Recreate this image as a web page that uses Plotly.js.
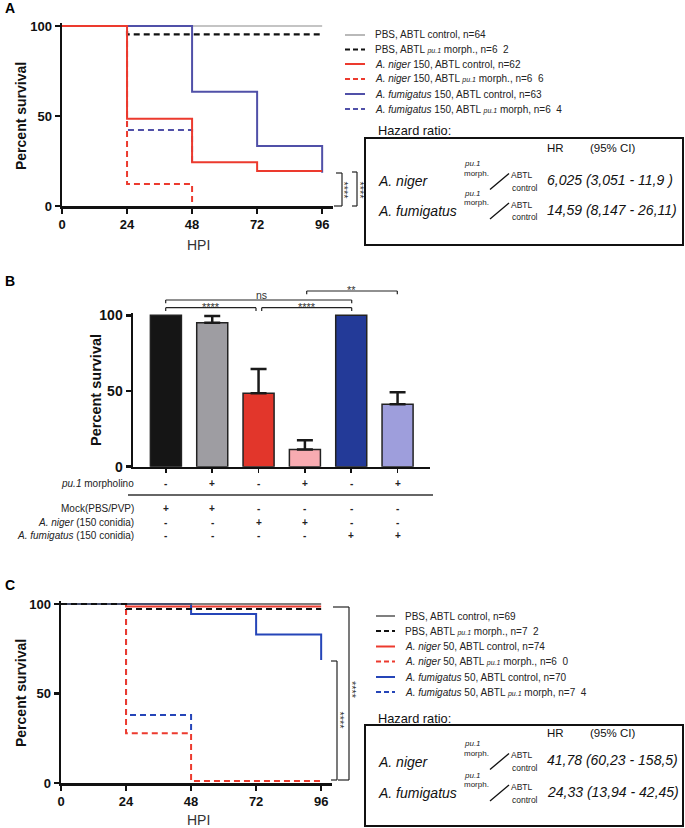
<!DOCTYPE html>
<html><head><meta charset="utf-8">
<script src="https://cdn.plot.ly/plotly-3.0.1.min.js"></script>
<style>html,body{margin:0;padding:0;background:#fff;}#chart{width:685px;height:828px;}</style>
</head><body><div id="chart"></div>
<script>
// ================= DATA =================
const hpiTicks = [0, 24, 48, 72, 96];
const survTicks = [0, 50, 100];

// Panel A (150 conidia) - Kaplan-Meier steps: time (HPI) and percent survival
const aPbsCtrlT  = [0, 96];              const aPbsCtrlS  = [100, 100];
const aPbsMorphT = [0, 24, 96];          const aPbsMorphS = [100, 95.4, 95.4];
const aNigCtrlT  = [0, 24, 48, 72, 96];  const aNigCtrlS  = [100, 48.5, 24.3, 19.4, 19.4];
const aNigMorphT = [0, 24, 48];          const aNigMorphS = [100, 12.2, 0];
const aFumCtrlT  = [0, 48, 72, 96, 96];  const aFumCtrlS  = [100, 63.5, 33.3, 33.3, 18.5];
const aFumMorphT = [0, 24, 48];          const aFumMorphS = [100, 42.2, 22.5];

// Panel C (50 conidia)
const cPbsCtrlT  = [0, 96];              const cPbsCtrlS  = [100, 100];
const cPbsMorphT = [0, 24, 96];          const cPbsMorphS = [100, 97.2, 97.2];
const cNigCtrlT  = [0, 24, 96];          const cNigCtrlS  = [100, 98.6, 98.6];
const cNigMorphT = [0, 24, 48, 96];      const cNigMorphS = [100, 27.8, 1.1, 1.1];
const cFumCtrlT  = [0, 48, 72, 96, 96];  const cFumCtrlS  = [100, 94.4, 83.0, 83.0, 68.7];
const cFumMorphT = [0, 24, 48];          const cFumMorphS = [100, 38.0, 28.0];

const legendA = [
  'PBS, ABTL control, n=64',
  'PBS, ABTL <i style="font-size:7px">pu.1</i> morph., n=6\u00a0\u00a02',
  '<i>A. niger</i> 150, ABTL control, n=62',
  '<i>A. niger</i> 150, ABTL <i style="font-size:7px">pu.1</i> morph., n=6\u00a0\u00a06',
  '<i>A. fumigatus</i> 150, ABTL control, n=63',
  '<i>A. fumigatus</i> 150, ABTL <i style="font-size:7px">pu.1</i> morph, n=6\u00a0\u00a04'
];
const legendC = [
  'PBS, ABTL control, n=69',
  'PBS, ABTL <i style="font-size:7px">pu.1</i> morph., n=7\u00a0\u00a02',
  '<i>A. niger</i> 50, ABTL control, n=74',
  '<i>A. niger</i> 50, ABTL <i style="font-size:7px">pu.1</i> morph., n=6\u00a0\u00a00',
  '<i>A. fumigatus</i> 50, ABTL control, n=70',
  '<i>A. fumigatus</i> 50, ABTL <i style="font-size:7px">pu.1</i> morph, n=7\u00a0\u00a04'
];

const hrSpecies = ['A. niger', 'A. fumigatus'];
const hrA = ['6,025 (3,051 - 11,9 )', '14,59 (8,147 - 26,11)'];
const hrC = ['41,78 (60,23 - 158,5)', '24,33 (13,94 - 42,45)'];

// Panel B (survival at end point)
const barCats = ['Mock ctrl', 'Mock pu.1', 'A. niger ctrl', 'A. niger pu.1', 'A. fumigatus ctrl', 'A. fumigatus pu.1'];
const barVals = [100, 95.1, 48.5, 11.3, 100, 41.2];
const barErr  = [null, 4.4, 16.0, 6.2, null, 7.9];
const rowPu1   = ['-', '+', '-', '+', '-', '+'];
const rowMock  = ['+', '+', '-', '-', '-', '-'];
const rowNiger = ['-', '-', '+', '+', '-', '-'];
const rowFum   = ['-', '-', '-', '-', '+', '+'];
const rowLabels = ['<i>pu.1</i> morpholino', 'Mock(PBS/PVP)', '<i>A. niger</i> (150 conidia)', '<i>A. fumigatus</i> (150 conidia)'];

// ================= STYLE / LAYOUT =================
const W = 685, H = 828;
const F = 'Liberation Sans, Arial, Helvetica, sans-serif';
const fx = p => p / W;
const fy = p => 1 - p / H;
const DASH = '6px,4px';

const cGray = '#8a8a8a', cBlack = '#111111', cRed = '#ec3a2e', cPurple = '#5050a8', cBlue = '#2545b8';
const barColors = ['#151515', '#9e9da2', '#e2362b', '#f8abb1', '#233a98', '#9e9edc'];

const stylesA = [
  {color: cGray, width: 1.2, dash: 'solid'},
  {color: cBlack, width: 2.2, dash: DASH},
  {color: cRed, width: 2, dash: 'solid'},
  {color: cRed, width: 2, dash: DASH},
  {color: cPurple, width: 2, dash: 'solid'},
  {color: cPurple, width: 2, dash: DASH}
];
const stylesC = [
  {color: '#555555', width: 1.5, dash: 'solid'},
  {color: cBlack, width: 2.2, dash: DASH},
  {color: cRed, width: 2, dash: 'solid'},
  {color: cRed, width: 2, dash: DASH},
  {color: cBlue, width: 2, dash: 'solid'},
  {color: cBlue, width: 2, dash: DASH}
];

function step(t, s, st, xa, ya, name) {
  return {type: 'scatter', mode: 'lines', x: t, y: s, name: name, xaxis: xa, yaxis: ya,
    line: {shape: 'hv', color: st.color, width: st.width, dash: st.dash}, hoverinfo: 'skip'};
}

const traces = [
  step(aPbsCtrlT, aPbsCtrlS, stylesA[0], 'x', 'y', 'A PBS ctrl'),
  step(aPbsMorphT, aPbsMorphS, stylesA[1], 'x', 'y', 'A PBS morph'),
  step(aFumCtrlT, aFumCtrlS, stylesA[4], 'x', 'y', 'A fum ctrl'),
  step(aFumMorphT, aFumMorphS, stylesA[5], 'x', 'y', 'A fum morph'),
  step(aNigMorphT, aNigMorphS, stylesA[3], 'x', 'y', 'A nig morph'),
  step(aNigCtrlT, aNigCtrlS, stylesA[2], 'x', 'y', 'A nig ctrl'),

  step(cNigCtrlT, cNigCtrlS, stylesC[2], 'x3', 'y3', 'C nig ctrl'),
  step(cFumCtrlT, cFumCtrlS, stylesC[4], 'x3', 'y3', 'C fum ctrl'),
  step(cFumMorphT, cFumMorphS, stylesC[5], 'x3', 'y3', 'C fum morph'),
  step(cNigMorphT, cNigMorphS, stylesC[3], 'x3', 'y3', 'C nig morph'),
  step(cPbsCtrlT, cPbsCtrlS, stylesC[0], 'x3', 'y3', 'C PBS ctrl'),
  step(cPbsMorphT, cPbsMorphS, stylesC[1], 'x3', 'y3', 'C PBS morph'),

  {type: 'bar', x: barCats, y: barVals, xaxis: 'x2', yaxis: 'y2', width: 0.67,
   marker: {color: barColors, line: {color: '#222222', width: 1.5}},
   error_y: {type: 'data', symmetric: false,
             array: barErr.map(v => v === null ? NaN : v),
             arrayminus: barErr.map(v => v === null ? NaN : 0),
             color: '#1a1a1a', thickness: 2.5, width: 8},
   hoverinfo: 'skip'}
];

const tickFont = s => ({family: F, size: s, color: '#111', weight: 'bold'});
function kmX(d0, d1, anchor) {
  return {domain: [fx(d0), fx(d1)], range: [0, 100], tickvals: hpiTicks, ticks: 'outside', ticklen: 5,
    tickwidth: 2.5, tickcolor: '#111', showline: true, linewidth: 2.5, linecolor: '#111',
    showgrid: false, zeroline: false, tickfont: tickFont(13), anchor: anchor, fixedrange: true};
}
function survY(bot, pxPer, anchor, fs) {
  return {domain: [fy(bot), fy(bot - 101.5 * pxPer)], range: [0, 101.5], tickvals: survTicks,
    ticks: 'outside', ticklen: 5, tickwidth: 2.5, tickcolor: '#111', showline: true, linewidth: 2.5,
    linecolor: '#111', showgrid: false, zeroline: false, tickfont: tickFont(fs), anchor: anchor, fixedrange: true};
}

const annotations = [];
const shapes = [];
function ann(text, x, y, o) {
  o = o || {};
  annotations.push({xref: o.xref || 'paper', yref: 'paper', x: o.xref ? x : fx(x), y: fy(y), text: text,
    showarrow: false, xanchor: o.xa || 'left', yanchor: 'middle', textangle: o.angle || 0,
    borderpad: 0,
    font: {family: F, size: o.size || 10, color: o.color || '#222', weight: o.weight || 'normal'}});
}
function seg(x0, y0, x1, y1, color, width, dash) {
  shapes.push({type: 'line', xref: 'paper', yref: 'paper', x0: fx(x0), y0: fy(y0), x1: fx(x1), y1: fy(y1),
    line: {color: color || '#222', width: width || 1.2, dash: dash || 'solid'}});
}
function rect(x0, y0, x1, y1) {
  shapes.push({type: 'rect', xref: 'paper', yref: 'paper', x0: fx(x0), y0: fy(y0), x1: fx(x1), y1: fy(y1),
    line: {color: '#111', width: 2}, fillcolor: 'rgba(0,0,0,0)'});
}

// Panel labels
ann('A', 4, 8, {size: 14, weight: 'bold', color: '#000'});
ann('B', 4, 281, {size: 14, weight: 'bold', color: '#000'});
ann('C', 4, 585, {size: 14, weight: 'bold', color: '#000'});

// Axis titles
ann('Percent survival', 21, 116, {size: 14, weight: 'bold', xa: 'center', angle: -90, color: '#111'});
ann('HPI', 198, 245, {size: 14, xa: 'center', color: '#333'});
ann('Percent survival', 96, 390, {size: 14.5, weight: 'bold', xa: 'center', angle: -90, color: '#111'});
ann('Percent survival', 21, 693, {size: 14, weight: 'bold', xa: 'center', angle: -90, color: '#111'});
ann('HPI', 198, 820, {size: 14, xa: 'center', color: '#333'});

// Legends
function legend(labels, styles, sx0, sx1, tx, ys) {
  labels.forEach((lab, i) => {
    const st = styles[i];
    seg(sx0, ys[i], sx1, ys[i], st.color, st.width, st.dash === 'solid' ? 'solid' : '5px,3px');
    ann(lab, tx, ys[i], {size: 10, color: '#222'});
  });
}
legend(legendA, stylesA, 345, 365, 374, [35, 49.5, 64, 79, 94, 109]);
legend(legendC, stylesC, 376, 395, 404, [616, 631, 646.5, 661.5, 677, 692]);

// Hazard ratio boxes
function hrBox(titleY, top, bot, headY, rowYs, vals) {
  ann('Hazard ratio:', 377, titleY, {size: 12.8, color: '#111'});
  rect(365, top, 683, bot);
  ann('HR', 546, headY, {size: 11.5, color: '#111'});
  ann('(95% CI)', 589, headY, {size: 11.5, color: '#111'});
  rowYs.forEach((y, i) => {
    ann('<i>' + hrSpecies[i] + '</i>', 377, y + 1.5, {size: 14, color: '#111'});
    ann('<i>pu.1</i>', 463, y - 16.5, {size: 8, color: '#222'});
    ann('morph.', 463, y - 7, {size: 8, color: '#222'});
    seg(490, y + 9.5, 509, y - 6.5, '#111', 1.3);
    ann('ABTL', 510, y - 5, {size: 8.5, color: '#222'});
    ann('control', 511, y + 8, {size: 8.5, color: '#222'});
    ann('<i>' + vals[i] + '</i>', 546, y, {size: 14, color: '#111'});
  });
}
hrBox(130, 138, 245, 148, [180, 209.5], hrA);
hrBox(718, 725, 826, 733, [760, 791.5], hrC);

// Significance brackets, panel A (vertical)
seg(336, 173, 342, 173); seg(342, 173, 342, 206); seg(334, 206, 342, 206);
seg(352, 172, 357, 172); seg(357, 172, 357, 206); seg(352, 206, 357, 206);
ann('****', 344, 190.5, {size: 11, xa: 'center', angle: 90, color: '#333'});
ann('****', 360, 190.5, {size: 11, xa: 'center', angle: 90, color: '#333'});

// Panel C brackets
seg(333, 607, 349, 607); seg(349, 607, 349, 780); seg(338, 780, 349, 780);
seg(331, 661, 337, 661); seg(337, 661, 337, 780); seg(331, 780, 337, 780);
ann('****', 352, 690, {size: 11, xa: 'center', angle: 90, color: '#333'});
ann('****', 339.5, 720, {size: 11, xa: 'center', angle: 90, color: '#333'});

// Panel B brackets
function hbr(x0, x1, y, yEnd) {
  seg(x0, yEnd, x0, y); seg(x0, y, x1, y); seg(x1, y, x1, yEnd);
}
hbr(165.7, 256, 307.7, 311);
hbr(261.7, 351.7, 307.7, 311);
hbr(165.7, 351.7, 300, 303.3);
hbr(306.7, 397.3, 291, 294.3);
ann('****', 211, 307, {size: 11, xa: 'center', color: '#333'});
ann('****', 306.7, 307, {size: 11, xa: 'center', color: '#333'});
ann('ns', 261.7, 295, {size: 10.5, xa: 'center', color: '#333'});
ann('**', 351, 290, {size: 11, xa: 'center', color: '#333'});

// Panel B table
const rowYs = [483, 509, 522.5, 535];
const rowSigns = [rowPu1, rowMock, rowNiger, rowFum];
rowLabels.forEach((lab, r) => {
  ann(lab, 135, rowYs[r], {size: 10, xa: 'right', color: '#222'});
  rowSigns[r].forEach((s, i) => {
    ann('<b>' + s + '</b>', i, rowYs[r], {xref: 'x2', xa: 'center', size: 10, color: '#222'});
  });
});
seg(128, 495, 433, 495, '#333', 1.5);

const layout = {
  width: W, height: H, margin: {l: 0, r: 0, t: 0, b: 0}, showlegend: false,
  paper_bgcolor: '#fff', plot_bgcolor: 'rgba(0,0,0,0)',
  font: {family: F},
  xaxis: kmX(62, 333, 'y'),
  yaxis: survY(206, 1.8, 'x', 13),
  xaxis2: {domain: [fx(133), fx(430)], type: 'category', range: [-0.71, 5.70], showticklabels: false,
    ticks: 'outside', ticklen: 4, tickwidth: 1.5, tickcolor: '#111', showline: true, linewidth: 2.5,
    linecolor: '#111', showgrid: false, zeroline: false, anchor: 'y2', fixedrange: true},
  yaxis2: survY(466.7, 1.514, 'x2', 14),
  xaxis3: kmX(61, 332, 'y3'),
  yaxis3: survY(783, 1.79, 'x3', 13),
  annotations: annotations,
  shapes: shapes
};

Plotly.newPlot('chart', traces, layout, {staticPlot: true, displayModeBar: false});
</script>
</body></html>
